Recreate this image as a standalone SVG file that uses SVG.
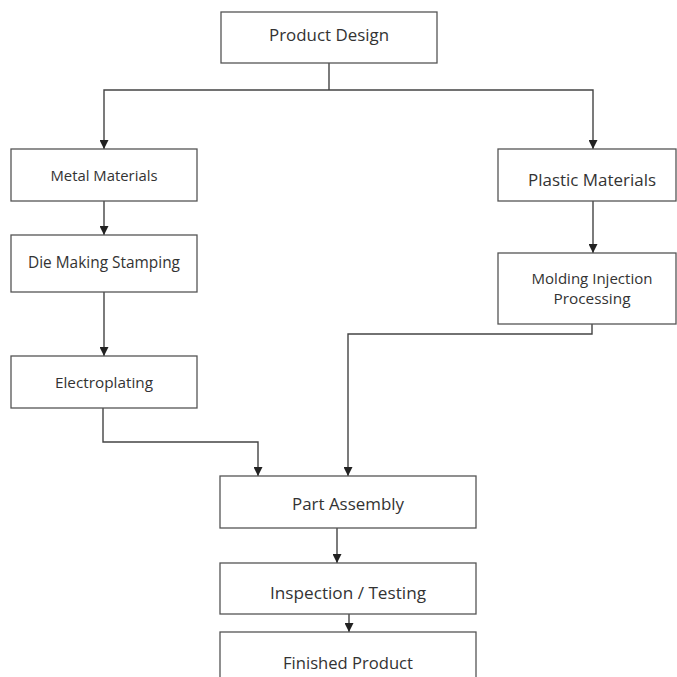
<svg xmlns="http://www.w3.org/2000/svg" width="677" height="677" viewBox="0 0 677 677">
<style>
.box{fill:#fff;stroke:#555;stroke-width:1.3}
.t{font-family:"Open Sans","Liberation Sans",sans-serif;fill:#333;text-anchor:middle;dominant-baseline:central}
.c{fill:none;stroke:#444;stroke-width:1.4}
</style>
<defs>
<marker id="ah" viewBox="0 0 10 10" refX="10" refY="5" markerWidth="9" markerHeight="9" markerUnits="userSpaceOnUse" orient="auto">
<path d="M0,0 L10,5 L0,10 z" fill="#222"/>
</marker>
</defs>
<rect width="677" height="677" fill="#fff"/>
<g id="connectors">
<path class="c" d="M329,63 V90"/>
<path class="c" d="M329,90 H104 V149" marker-end="url(#ah)"/>
<path class="c" d="M329,90 H593 V149" marker-end="url(#ah)"/>
<path class="c" d="M104,201 V235" marker-end="url(#ah)"/>
<path class="c" d="M104,292 V356" marker-end="url(#ah)"/>
<path class="c" d="M593,201 V253" marker-end="url(#ah)"/>
<path class="c" d="M103,408 V442 H258 V476" marker-end="url(#ah)"/>
<path class="c" d="M592,324 V334 H348 V476" marker-end="url(#ah)"/>
<path class="c" d="M337,528 V563" marker-end="url(#ah)"/>
<path class="c" d="M349,614 V632" marker-end="url(#ah)"/>
</g>
<g id="product-design"><rect class="box" x="221" y="12" width="216" height="51"/><text class="t" x="329" y="34" font-size="17" textLength="120" lengthAdjust="spacingAndGlyphs">Product Design</text></g>
<g id="metal-materials"><rect class="box" x="11" y="149" width="186" height="52"/><text class="t" x="104" y="175" font-size="15" textLength="107" lengthAdjust="spacingAndGlyphs">Metal Materials</text></g>
<g id="die-making"><rect class="box" x="11" y="235" width="186" height="57"/><text class="t" x="104" y="262" font-size="16" textLength="152" lengthAdjust="spacingAndGlyphs">Die Making Stamping</text></g>
<g id="electroplating"><rect class="box" x="11" y="356" width="186" height="52"/><text class="t" x="104" y="382" font-size="15" textLength="98" lengthAdjust="spacingAndGlyphs">Electroplating</text></g>
<g id="plastic-materials"><rect class="box" x="498" y="149" width="178" height="52"/><text class="t" x="592" y="179" font-size="17" textLength="128" lengthAdjust="spacingAndGlyphs">Plastic Materials</text></g>
<g id="molding"><rect class="box" x="498" y="253" width="178" height="71"/><text class="t" x="592" y="278" font-size="15" textLength="121" lengthAdjust="spacingAndGlyphs">Molding Injection</text><text class="t" x="592" y="298" font-size="15" textLength="77" lengthAdjust="spacingAndGlyphs">Processing</text></g>
<g id="part-assembly"><rect class="box" x="220" y="476" width="256" height="52"/><text class="t" x="348" y="503" font-size="17" textLength="112" lengthAdjust="spacingAndGlyphs">Part Assembly</text></g>
<g id="inspection"><rect class="box" x="220" y="563" width="256" height="51"/><text class="t" x="348" y="592" font-size="17" textLength="156" lengthAdjust="spacingAndGlyphs">Inspection / Testing</text></g>
<g id="finished"><rect class="box" x="220" y="632" width="256" height="60"/><text class="t" x="348" y="662" font-size="17" textLength="130" lengthAdjust="spacingAndGlyphs">Finished Product</text></g>
</svg>
